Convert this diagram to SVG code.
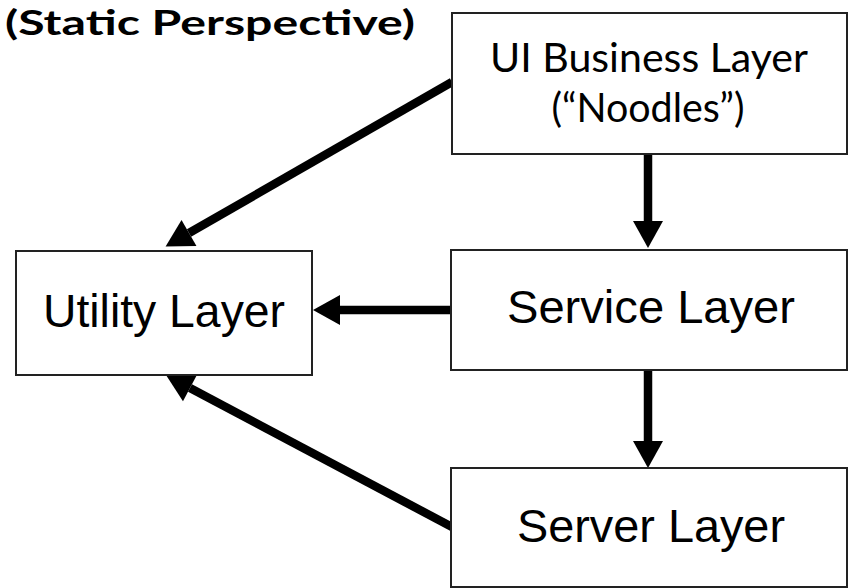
<svg xmlns="http://www.w3.org/2000/svg" width="854" height="588" viewBox="0 0 854 588">
  <style>
    .box { fill: #ffffff; stroke: #222222; stroke-width: 2; }
    .lbl { font-family: "Liberation Sans", Arial, sans-serif; font-size: 46px; fill: #000000; text-anchor: middle; }
    .lbl2 { font-family: Lato, "Liberation Sans", sans-serif; font-size: 40px; fill: #000000; text-anchor: middle; }
    .title { font-family: Lato, "Liberation Sans", sans-serif; font-weight: bold; font-size: 34px; fill: #000000; }
    .conn { stroke: #000000; stroke-width: 8.5; fill: none; marker-end: url(#ah); }
  </style>
  <defs>
    <marker id="ah" markerUnits="userSpaceOnUse" viewBox="0 -16 28 32" markerWidth="28" markerHeight="32" refX="0" refY="0" orient="auto" overflow="visible">
      <path d="M0,-15 L27,0 L0,15 Z" fill="#000000"/>
    </marker>
  </defs>
  <rect width="854" height="588" fill="#ffffff"/>
  <text class="title" x="5" y="35" textLength="410" lengthAdjust="spacingAndGlyphs">(Static Perspective)</text>

  <g id="connectors">
    <line class="conn" x1="648" y1="154" x2="648" y2="221"/>
    <line class="conn" x1="648" y1="370" x2="648" y2="441"/>
    <line class="conn" x1="451" y1="310" x2="340" y2="310"/>
    <line class="conn" x1="452" y1="82" x2="189" y2="233"/>
    <line class="conn" x1="452" y1="527" x2="190" y2="388"/>
  </g>

  <g id="ui-business">
    <rect class="box" x="452" y="13" width="395" height="141"/>
    <text class="lbl2" x="649" y="72" textLength="318" lengthAdjust="spacingAndGlyphs">UI Business Layer</text>
    <text class="lbl2" x="648" y="122" textLength="193" lengthAdjust="spacingAndGlyphs">(“Noodles”)</text>
  </g>
  <g id="utility">
    <rect class="box" x="16" y="251" width="296" height="124"/>
    <text class="lbl" x="164" y="327" textLength="242" lengthAdjust="spacingAndGlyphs">Utility Layer</text>
  </g>
  <g id="service">
    <rect class="box" x="451" y="250" width="396" height="120"/>
    <text class="lbl" x="651" y="323" textLength="288" lengthAdjust="spacingAndGlyphs">Service Layer</text>
  </g>
  <g id="server">
    <rect class="box" x="451" y="468" width="396" height="119"/>
    <text class="lbl" x="651" y="542" textLength="268" lengthAdjust="spacingAndGlyphs">Server Layer</text>
  </g>
</svg>
